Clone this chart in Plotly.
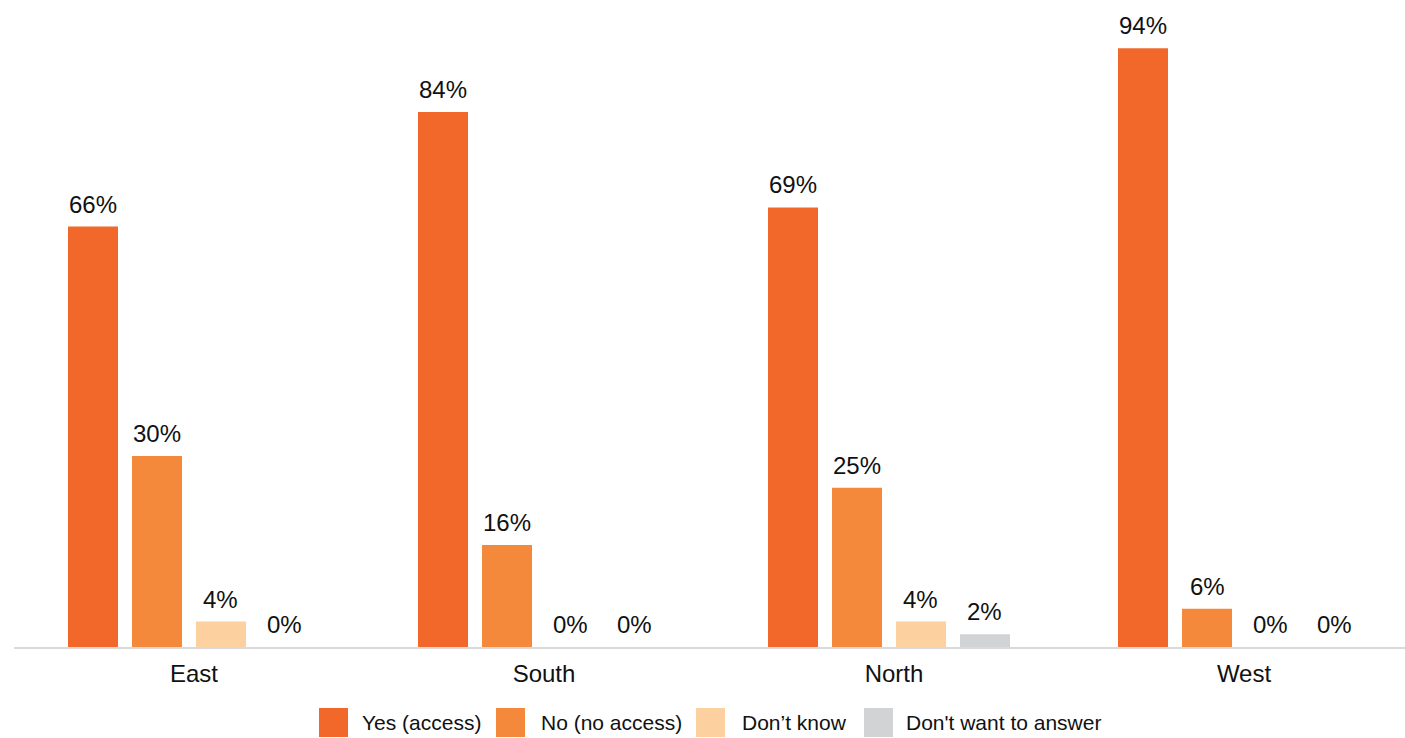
import plotly.graph_objects as go

# Survey results by region (percent of respondents)
regions = ["East", "South", "North", "West"]
series_names = ["Yes (access)", "No (no access)", "Don\u2019t know", "Don't want to answer"]
yes_access = [66, 84, 69, 94]
no_access = [30, 16, 25, 6]
dont_know = [4, 0, 4, 0]
dont_want = [0, 0, 2, 0]

series_values = [yes_access, no_access, dont_know, dont_want]
colors = ["#F2682A", "#F4893B", "#FDD09F", "#D2D3D5"]

W, H = 1405, 738
ML, MR, MT, MB = 14, 0, 10, 91
plot_w = W - ML - MR
plot_h = H - MT - MB
cat_px = 350          # pixel width of one category band
BARGAP = 0.2686
BARGROUPGAP = 0.21875
slot_px = cat_px * (1 - BARGAP) / len(series_names)

FONT = "Liberation Sans, Arial, Helvetica, sans-serif"
TXT = "#111111"

fig = go.Figure()
for name, vals, col in zip(series_names, series_values, colors):
    fig.add_trace(go.Bar(
        x=regions,
        y=vals,
        name=name,
        marker=dict(color=col, line=dict(width=0)),
        showlegend=False,
    ))

annotations = []
# Value labels above each bar, nudged to the centre of its slot in the group
n = len(series_names)
for i, vals in enumerate(series_values):
    for region, v in zip(regions, vals):
        annotations.append(dict(
            x=region, y=v, xref="x", yref="y",
            text=f"{v}%", showarrow=False,
            xanchor="center", yanchor="bottom",
            xshift=(i - (n - 1) / 2) * slot_px, yshift=7,
            font=dict(size=24, color=TXT, family=FONT),
        ))

# Custom legend: large square swatches with labels below the plot
swatch_x = [319, 496, 696, 864]
label_x = [360, 539, 740, 904]
sw_top, sw_bot = 708, 737

def px_to_paper_x(px):
    return (px - ML) / plot_w

def px_to_paper_y(py):
    return (H - MB - py) / plot_h

shapes = []
for name, col, sx, lx in zip(series_names, colors, swatch_x, label_x):
    shapes.append(dict(
        type="rect", xref="paper", yref="paper",
        x0=px_to_paper_x(sx), x1=px_to_paper_x(sx + 29),
        y0=px_to_paper_y(sw_bot), y1=px_to_paper_y(sw_top),
        fillcolor=col, line=dict(width=0),
    ))
    annotations.append(dict(
        xref="paper", yref="paper",
        x=px_to_paper_x(lx), y=px_to_paper_y((sw_top + sw_bot) / 2),
        xanchor="left", yanchor="middle", showarrow=False,
        text=name, font=dict(size=21, color=TXT, family=FONT),
    ))

fig.update_layout(
    width=W, height=H,
    margin=dict(l=ML, r=MR, t=MT, b=MB, pad=0),
    paper_bgcolor="white",
    plot_bgcolor="white",
    barmode="group",
    bargap=BARGAP,
    bargroupgap=BARGROUPGAP,
    font=dict(family=FONT, color=TXT),
    shapes=shapes,
    annotations=annotations,
    xaxis=dict(
        range=[-0.5, -0.5 + plot_w / cat_px],
        showline=True, linecolor="#D9D9D9", linewidth=2,
        showgrid=False, zeroline=False, ticks="",
        ticklabelstandoff=4, ticklabelshift=5,
        tickfont=dict(size=24, color=TXT, family=FONT),
        fixedrange=True,
    ),
    yaxis=dict(
        range=[0, 100],
        visible=False, showgrid=False, zeroline=False,
        fixedrange=True,
    ),
)

fig.write_html("out.html")
